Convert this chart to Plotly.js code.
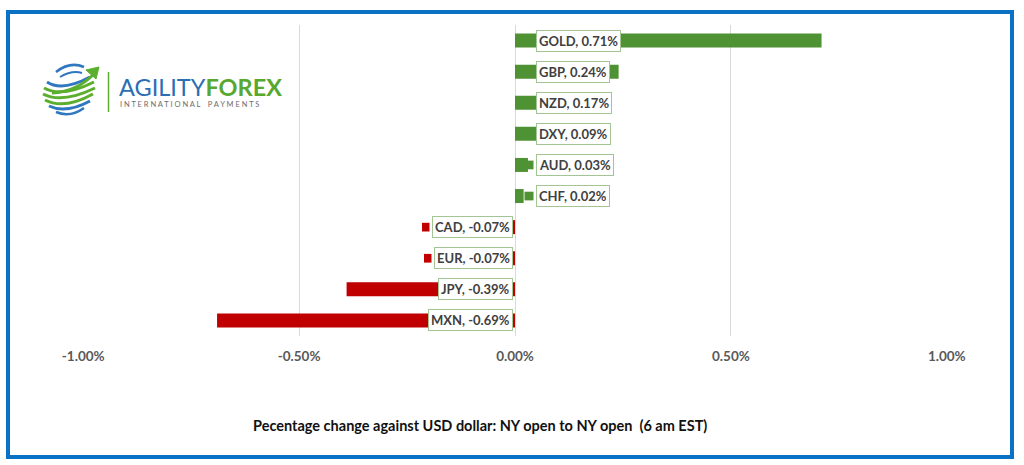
<!DOCTYPE html>
<html>
<head>
<meta charset="utf-8">
<script src="https://cdn.plot.ly/plotly-3.0.1.min.js"></script>
<style>
  html, body { margin: 0; padding: 0; background: #ffffff; }
  #wrap { position: relative; width: 1024px; height: 465px; overflow: hidden; }
  #frame { position: absolute; left: 6px; top: 10px; width: 1000px; height: 441px; border: 4px solid #0a72c4; pointer-events: none; z-index: 5; }
  #chart { position: absolute; left: 0; top: 0; width: 1024px; height: 465px; }
</style>
</head>
<body>
<div id="wrap">
  <div id="chart"></div>
  <div id="frame"></div>
</div>
<script>
// ---- data ----
const categories = ["GOLD", "GBP", "NZD", "DXY", "AUD", "CHF", "CAD", "EUR", "JPY", "MXN"];
const changes = [0.71, 0.24, 0.17, 0.09, 0.03, 0.02, -0.07, -0.07, -0.39, -0.69];
const tickValues = [-1.0, -0.5, 0.0, 0.5, 1.0];
const chartTitle = "Pecentage change against USD dollar: NY open to NY open  (6 am EST)";
const logoMain = ["AGILITY", "FOREX"];
const logoSub = "INTERNATIONAL PAYMENTS";

const GREEN = "#4f9234";
const RED = "#c00000";
const colors = changes.map(v => v >= 0 ? GREEN : RED);

// pixel helpers for decorations (plot area: left 83, width 864, top 25, height 311)
const PL = 83, PW = 864, PT = 25, PH = 311;
const px = p => (p - PL) / PW;
const py = p => (PT + PH - p) / PH;
function path(pts) {
  return pts.map(c => c[0] + " " + c.slice(1).reduce((a, v, k) => {
    a.push(k % 2 === 0 ? px(v).toFixed(5) : py(v).toFixed(5));
    return a;
  }, []).join(" ")).join(" ");
}

const trace = {
  type: "bar",
  orientation: "h",
  x: changes,
  y: categories,
  marker: { color: colors, line: { width: 0 } },
  hoverinfo: "skip",
  showlegend: false
};

const annotations = categories.map((c, i) => {
  const v = changes[i];
  const pos = v >= 0;
  return {
    x: 0, y: c, xref: "x", yref: "y",
    text: c + ", " + v.toFixed(2) + "%",
    showarrow: false,
    xanchor: pos ? "left" : "right",
    yanchor: "middle",
    xshift: pos ? 21 : -2,
    bgcolor: "#ffffff",
    bordercolor: "#a3c493",
    borderwidth: 1,
    borderpad: 2,
    font: { family: "Lato, 'Open Sans', sans-serif", size: 13, color: "#404040", weight: "bold" }
  };
});

// logo text
annotations.push({
  xref: "paper", yref: "paper", x: px(117), y: py(87), xanchor: "left", yanchor: "middle",
  showarrow: false,
  text: "<span style='color:#2c6db3'>" + logoMain[0] + "</span><span style='color:#58a82f'><b>" + logoMain[1] + "</b></span>",
  font: { family: "Lato, 'Open Sans', sans-serif", size: 23.5, color: "#2c6db3" }
});
const spaced = logoSub.split(" ").map(w => w.split("").join("\u00A0")).join("\u00A0\u00A0\u00A0\u00A0");
annotations.push({
  xref: "paper", yref: "paper", x: px(118), y: py(104), xanchor: "left", yanchor: "middle",
  showarrow: false,
  text: spaced,
  font: { family: "Lato, 'Open Sans', sans-serif", size: 7.5, color: "#6d6d6d" }
});
// bottom title
annotations.push({
  xref: "paper", yref: "paper", x: px(480), y: py(425), xanchor: "center", yanchor: "middle",
  showarrow: false,
  text: chartTitle,
  font: { family: "Lato, 'Open Sans', sans-serif", size: 14.5, color: "#111111", weight: "bold" }
});

const BLUE_L = "#2f78c0", GREEN_L = "#5cae2e";
const logoShapes = [
  { type: "line", xref: "paper", yref: "paper", x0: px(108.5), x1: px(108.5), y0: py(72), y1: py(112), line: { color: "#5cae2e", width: 1.5 } },
  { type: "path", xref: "paper", yref: "paper", path: path([["M", 56, 72], ["Q", 70, 61, 84, 67]]), line: { color: BLUE_L, width: 2.5 } },
  { type: "path", xref: "paper", yref: "paper", path: path([["M", 60, 77], ["Q", 72, 70, 82, 73]]), line: { color: BLUE_L, width: 2 } },
  { type: "path", xref: "paper", yref: "paper", path: path([["M", 47, 82], ["Q", 62, 92, 90, 77]]), line: { color: BLUE_L, width: 3 } },
  { type: "path", xref: "paper", yref: "paper", path: path([["M", 44, 88], ["Q", 62, 98, 94, 82]]), line: { color: GREEN_L, width: 3 } },
  { type: "path", xref: "paper", yref: "paper", path: path([["M", 43, 94], ["Q", 62, 104, 95, 88]]), line: { color: GREEN_L, width: 3 } },
  { type: "path", xref: "paper", yref: "paper", path: path([["M", 45, 100], ["Q", 64, 110, 93, 94]]), line: { color: GREEN_L, width: 3 } },
  { type: "path", xref: "paper", yref: "paper", path: path([["M", 49, 106], ["Q", 66, 114, 90, 101]]), line: { color: BLUE_L, width: 3 } },
  { type: "path", xref: "paper", yref: "paper", path: path([["M", 56, 112], ["Q", 70, 118, 84, 108]]), line: { color: BLUE_L, width: 2.5 } },
  { type: "path", xref: "paper", yref: "paper", path: path([["M", 52, 93], ["Q", 76, 92, 94, 74]]), line: { color: GREEN_L, width: 3 } },
  { type: "path", xref: "paper", yref: "paper", path: path([["M", 99, 67], ["L", 86, 70], ["L", 96, 79], ["Z"]]), fillcolor: GREEN_L, line: { color: GREEN_L, width: 1 } }
];

const layout = {
  width: 1024, height: 465,
  margin: { l: PL, r: 1024 - PL - PW, t: PT, b: 465 - PT - PH, pad: 0 },
  paper_bgcolor: "#ffffff", plot_bgcolor: "#ffffff",
  bargap: 0.55,
  font: { family: "Lato, 'Open Sans', sans-serif" },
  xaxis: {
    range: [-1.0005, 1.0005],
    tickvals: tickValues,
    ticktext: tickValues.map(v => v.toFixed(2) + "%"),
    showgrid: true, gridcolor: "#d9d9d9", gridwidth: 1,
    zeroline: true, zerolinecolor: "#d9d9d9", zerolinewidth: 1,
    showline: false, ticks: "",
    tickfont: { family: "Lato, 'Open Sans', sans-serif", size: 13.5, color: "#595959", weight: "bold" },
    ticklabelstandoff: 10,
    fixedrange: true
  },
  yaxis: {
    type: "category",
    autorange: "reversed",
    showticklabels: false, showgrid: false, zeroline: false, showline: false, ticks: "",
    fixedrange: true
  },
  annotations: annotations,
  shapes: logoShapes
};

const gd = document.getElementById("chart");
Plotly.newPlot(gd, [trace], layout, { displayModeBar: false, staticPlot: true }).then(() => {
  const base = gd.getBoundingClientRect();
  const sz = gd._fullLayout._size;
  const keys = [];
  categories.forEach((c, i) => {
    const el = gd.querySelector('.annotation[data-index="' + i + '"] rect.bg');
    if (!el) return;
    const r = el.getBoundingClientRect();
    const left = r.left - base.left;
    const x1 = left - 3, x0 = left - (changes[i] >= 0 ? 12 : 10.5);
    keys.push({
      type: "rect", xref: "paper", yref: "y",
      x0: (x0 - sz.l) / sz.w, x1: (x1 - sz.l) / sz.w,
      y0: i - 0.14, y1: i + 0.14,
      fillcolor: colors[i], line: { width: 0 }, layer: "above"
    });
  });
  return Plotly.relayout(gd, { shapes: logoShapes.concat(keys) });
});
</script>
</body>
</html>
